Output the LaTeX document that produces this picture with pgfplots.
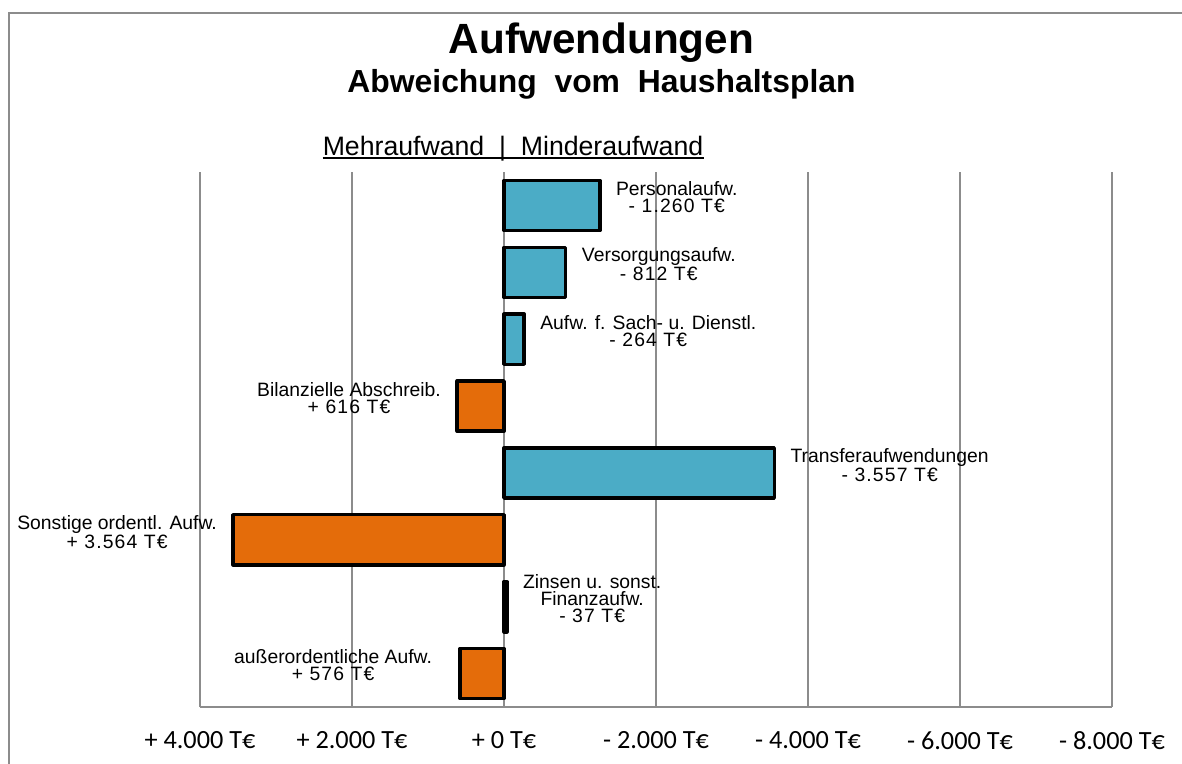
\documentclass[border=0pt]{standalone}
\usepackage{pgfplots}
\pgfplotsset{compat=1.18}
\usepackage{fontspec}
\setmainfont{Liberation Sans}
\newfontfamily\carlito{Carlito}
\newfontfamily\valfont[LetterSpace=6]{Liberation Sans}
\definecolor{barblue}{HTML}{4BACC6}
\definecolor{barorange}{HTML}{E46C0A}
\definecolor{gridgray}{HTML}{8C8C8C}
\tikzset{
  lblR/.style={anchor=west, inner sep=0pt, xshift=12pt, yshift=6pt, align=center, font=\fontsize{14.5}{12.75}\selectfont},
  lblL/.style={anchor=east, inner sep=0pt, xshift=-12pt, yshift=6pt, align=center, font=\fontsize{14.5}{12.75}\selectfont},
}
\begin{document}
\begin{tikzpicture}[x=0.75pt,y=-0.75pt]
\useasboundingbox (0,0) rectangle (1182,764);
\draw[gridgray, line width=1.3pt] (9,764) -- (9,13) -- (1182,13);
\node[font=\fontsize{31.7}{36}\selectfont\bfseries, anchor=base, inner sep=0pt] at (601.5,53) {Aufwendungen};
\node[font=\fontsize{23.9}{27}\selectfont\bfseries, anchor=base, inner sep=0pt] at (601.5,92) {Abweichung\ \ vom\ \ Haushaltsplan};
\node[font=\fontsize{20}{22}\selectfont, anchor=base, inner sep=0pt] (m) at (513,155) {Mehraufwand\ \ |\ \ Minderaufwand};
\draw[line width=1.5pt] ([yshift=-2.4pt]m.base west) -- ([yshift=-2.4pt]m.base east);
\begin{axis}[
  at={(150pt,-530.25pt)}, anchor=south west,
  width=684pt, height=401.25pt, scale only axis,
  xmin=-4000, xmax=8000, ymin=-0.5, ymax=7.5,
  xtick={-4000,-2000,0,2000,4000,6000,8000},
  xticklabels={+ 4.000 T€, + 2.000 T€, + 0 T€, - 2.000 T€, - 4.000 T€, - 6.000 T€, - 8.000 T€},
  ytick=\empty,
  axis x line=bottom, axis y line=none,
  x axis line style={-, gridgray, line width=1.1pt},
  xmajorgrids, major grid style={gridgray, line width=1.1pt},
  major tick length=0pt,
  xticklabel style={font=\carlito\fontsize{19.7}{22}\selectfont, yshift=-15pt},
  xbar, bar width=0.75, bar shift=0pt,
  clip=false,
]
\addplot[fill=barblue, draw=black, line width=2.6pt, line join=round] coordinates {(1260,7) (812,6) (264,5) (3557,3) (37,1)};
\addplot[fill=barorange, draw=black, line width=2.6pt, line join=round] coordinates {(-616,4) (-3564,2) (-576,0)};
\node[lblR] at (axis cs:1260,7) {Personalaufw.\\\valfont - 1.260 T€};
\node[lblR] at (axis cs:812,6) {Versorgungsaufw.\\\valfont - 812 T€};
\node[lblR] at (axis cs:264,5) {Aufw. f. Sach- u. Dienstl.\\\valfont - 264 T€};
\node[lblL] at (axis cs:-616,4) {Bilanzielle Abschreib.\\\valfont + 616 T€};
\node[lblR] at (axis cs:3557,3) {Transferaufwendungen\\\valfont - 3.557 T€};
\node[lblL] at (axis cs:-3564,2) {Sonstige ordentl. Aufw.\\\valfont + 3.564 T€};
\node[lblR] at (axis cs:37,1) {Zinsen u. sonst.\\Finanzaufw.\\\valfont - 37 T€};
\node[lblL, xshift=-9pt] at (axis cs:-576,0) {außerordentliche Aufw.\\\valfont + 576 T€};
\end{axis}
\end{tikzpicture}
\end{document}
